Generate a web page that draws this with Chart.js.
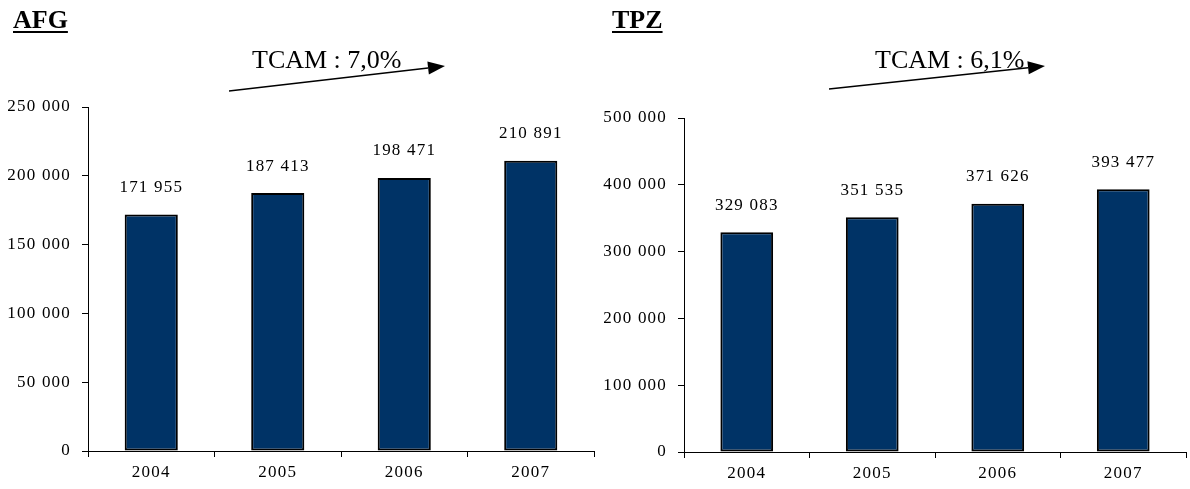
<!DOCTYPE html>
<html lang="fr">
<head>
  <meta charset="UTF-8">
  <title>AFG / TPZ</title>
  <style>
    body, html {
      margin: 0;
      background: #fff;
      width: 1190px;
      height: 489px;
      overflow: hidden;
    }
    canvas {
      position: absolute;
      top: 0;
    }
    #afgChart { left: 0; }
    #tpzChart { left: 598px; }
  </style>
</head>
<body>
  <canvas id="afgChart" width="598" height="489"></canvas>
  <canvas id="tpzChart" width="592" height="489"></canvas>

  <script src="https://cdn.jsdelivr.net/npm/chart.js"></script>
  <script>
    // data
    const years = ['2004', '2005', '2006', '2007'];
    const afgValues = [171955, 187413, 198471, 210891];
    const tpzValues = [329083, 351535, 371626, 393477];
    const afgMax = 250000, afgStep = 50000;
    const tpzMax = 500000, tpzStep = 100000;
    const afgTcam = 'TCAM : 7,0%';
    const tpzTcam = 'TCAM : 6,1%';

    const serif = "'Liberation Serif', 'Times New Roman', serif";
    const numSize = 17;
    const spacing = '1.2px';

    function fmt(v) {
      return String(v).replace(/\B(?=(\d{3})+(?!\d))/g, ' ');
    }

    // the numbers in the original are slightly letter-spaced
    const spaced = {
      id: 'spaced',
      beforeLayout(chart) { chart.ctx.letterSpacing = spacing; },
      beforeDraw(chart) { chart.ctx.letterSpacing = spacing; }
    };

    // value labels above bars
    const valueLabels = {
      id: 'valueLabels',
      afterDatasetsDraw(chart) {
        const ctx = chart.ctx;
        const meta = chart.getDatasetMeta(0);
        const data = chart.data.datasets[0].data;
        ctx.save();
        ctx.letterSpacing = spacing;
        ctx.font = numSize + 'px ' + serif;
        ctx.fillStyle = '#000';
        ctx.textAlign = 'center';
        ctx.textBaseline = 'middle';
        meta.data.forEach((bar, i) => {
          ctx.fillText(fmt(data[i]), bar.x, bar.y - 27);
        });
        ctx.restore();
      }
    };

    // title + TCAM arrow
    const decorations = {
      id: 'decorations',
      afterDraw(chart, args, opts) {
        const ctx = chart.ctx;
        ctx.save();
        ctx.letterSpacing = '0px';
        // underlined bold title
        ctx.font = 'bold 26px ' + serif;
        ctx.fillStyle = '#000';
        ctx.textBaseline = 'alphabetic';
        ctx.fillText(opts.title, opts.titleX, 28);
        const w = ctx.measureText(opts.title).width;
        ctx.fillRect(opts.titleX, 31, w, 2);

        // TCAM text
        ctx.font = '26px ' + serif;
        ctx.fillText(opts.tcam, opts.tcamX, 68);

        // arrow
        const [x1, y1, x2, y2] = opts.arrow;
        const ang = Math.atan2(y2 - y1, x2 - x1);
        const head = 17, half = 6.5;
        const bx = x2 - head * Math.cos(ang), by = y2 - head * Math.sin(ang);
        ctx.strokeStyle = '#000';
        ctx.lineWidth = 1.5;
        ctx.beginPath();
        ctx.moveTo(x1, y1);
        ctx.lineTo(bx, by);
        ctx.stroke();
        ctx.beginPath();
        ctx.moveTo(x2, y2);
        ctx.lineTo(bx + half * Math.sin(ang), by - half * Math.cos(ang));
        ctx.lineTo(bx - half * Math.sin(ang), by + half * Math.cos(ang));
        ctx.closePath();
        ctx.fill();
        ctx.restore();
      }
    };

    function makeChart(id, values, max, step, deco, box) {
      return new Chart(document.getElementById(id), {
        type: 'bar',
        data: {
          labels: years,
          datasets: [{
            data: values,
            backgroundColor: '#003366',
            borderColor: '#000',
            borderWidth: 2,
            borderSkipped: false,
            barPercentage: 0.42,
            categoryPercentage: 1
          }]
        },
        plugins: [spaced, valueLabels, decorations],
        options: {
          responsive: false,
          animation: false,
          layout: {
            padding: { left: 0, right: box.right, top: box.top, bottom: 0 }
          },
          plugins: {
            legend: { display: false },
            tooltip: { enabled: false },
            decorations: deco
          },
          scales: {
            x: {
              grid: {
                offset: true,
                drawOnChartArea: false,
                drawTicks: true,
                tickLength: 6,
                color: '#000'
              },
              border: { color: '#000', width: 1 },
              ticks: {
                color: '#000',
                font: { family: serif, size: numSize },
                padding: 5,
                maxRotation: 0,
                autoSkip: false
              },
              afterFit(scale) { scale.height = box.bottom; }
            },
            y: {
              min: 0,
              max: max,
              grid: {
                drawOnChartArea: false,
                drawTicks: true,
                tickLength: 6,
                color: '#000'
              },
              border: { color: '#000', width: 1 },
              ticks: {
                stepSize: step,
                color: '#000',
                font: { family: serif, size: numSize },
                padding: 11,
                callback: v => fmt(v)
              },
              afterFit(scale) { scale.width = box.left; }
            }
          }
        }
      });
    }

    makeChart('afgChart', afgValues, afgMax, afgStep,
      { title: 'AFG', titleX: 13, tcam: afgTcam, tcamX: 252, arrow: [229, 91, 445, 66] },
      { left: 88, right: 4, top: 107, bottom: 38 });

    makeChart('tpzChart', tpzValues, tpzMax, tpzStep,
      { title: 'TPZ', titleX: 14, tcam: tpzTcam, tcamX: 277, arrow: [231, 89, 447, 66] },
      { left: 86, right: 4, top: 118, bottom: 37 });
  </script>
</body>
</html>
